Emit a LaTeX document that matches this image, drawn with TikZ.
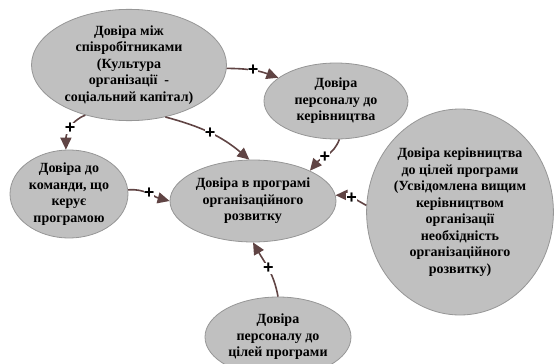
\documentclass[tikz,border=0pt]{standalone}
\usepackage{fontspec}
\setmainfont{Liberation Serif}
\newfontfamily\plusfont{Liberation Sans}
\usetikzlibrary{arrows.meta,shapes.geometric}
\definecolor{elfill}{RGB}{192,192,192}
\definecolor{eldraw}{RGB}{150,150,150}
\definecolor{arr}{RGB}{96,68,68}
\begin{document}
\begin{tikzpicture}[x=1pt,y=-1pt,
  el/.style={ellipse, fill=elfill, draw=eldraw, line width=0.8pt, inner sep=0pt,
    align=center, font=\bfseries\fontsize{14}{16.5}\selectfont},
  link/.style={draw=arr, line width=1.6pt, -{Triangle[length=12pt,width=11pt]}},
  plus/.style={font=\plusfont\bfseries\fontsize{18}{18}\selectfont, fill=white, inner sep=0pt, text=black}]
\useasboundingbox (0,0) rectangle (560,364);
\clip (0,0) rectangle (560,364);
\node[el, minimum width=195pt, minimum height=107pt] (A) at (129,65)
  {Довіра між\\співробітниками\\(Культура\\організації\ \ -\\соціальний капітал)};
\node[el, minimum width=144pt, minimum height=76pt] (B) at (336,101)
  {Довіра\\персоналу до\\керівництва};
\node[el, minimum width=184pt, minimum height=206pt] (C) at (460,212)
  {Довіра керівництва\\до цілей програми\\(Усвідомлена вищим\\керівництвом\\організації\\необхідність\\організаційного\\розвитку)};
\node[el, minimum width=118pt, minimum height=82pt] (D) at (69,194)
  {Довіра до\\команди, що\\керує\\програмою};
\node[el, minimum width=166pt, minimum height=82pt] (E) at (253,201)
  {Довіра в програмі\\організаційного\\розвитку};
\node[el, minimum width=146pt, minimum height=80pt] (F) at (278,337)
  {Довіра\\персоналу до\\цілей програми};

\draw[link] (A.-2) to[out=0,in=160] node[plus,pos=0.5] (p1) {+} (B.158);
\draw[link] (A.-131) to[out=-160,in=90] node[plus,pos=0.5] (p2) {+} (D.94);
\draw[link] (A.-55) to[out=-15,in=140] node[plus,pos=0.5] (p3) {+} (E.95);
\draw[link] (B.-85) to[out=-110,in=50] node[plus,pos=0.55] (p4) {+} (E.28);
\draw[link] (D.4) to[out=5,in=165] node[plus,pos=0.5] (p5) {+} (E.180);
\draw[link] (C.176) to[out=150,in=0] node[plus,pos=0.5] (p6) {+} (E.4);
\draw[link] (F.90) to[out=100,in=-60] node[plus,pos=0.5] (p7) {+} (E.-90);
\end{tikzpicture}
\end{document}
